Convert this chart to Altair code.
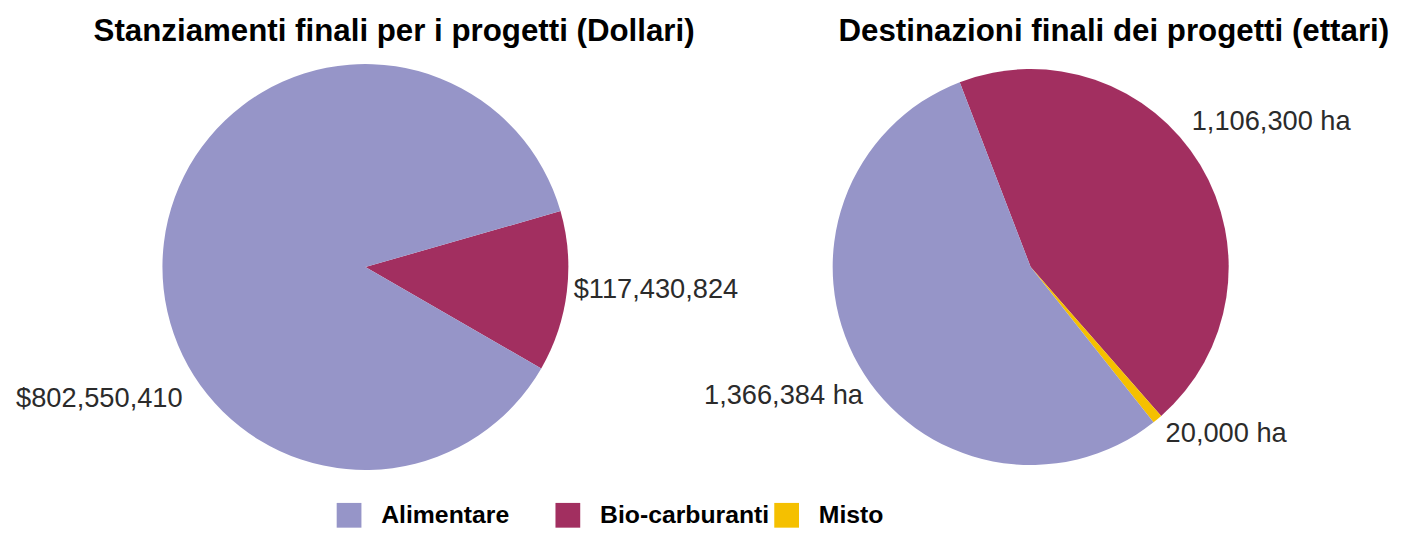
import math
import altair as alt
import pandas as pd

# ---- data -------------------------------------------------------------
categories = ["Alimentare", "Bio-carburanti", "Misto"]
colors = ["#9695C8", "#A22F60", "#F5C000"]

dollar_categories = ["Bio-carburanti", "Alimentare"]
dollar_values = [117430824, 802550410]
dollar_labels = ["$117,430,824", "$802,550,410"]

hectare_categories = ["Bio-carburanti", "Misto", "Alimentare"]
hectare_values = [1106300, 20000, 1366384]
hectare_labels = ["1,106,300 ha", "20,000 ha", "1,366,384 ha"]

title_left = "Stanziamenti finali per i progetti (Dollari)"
title_right = "Destinazioni finali dei progetti (ettari)"

df_dollars = pd.DataFrame({"cat": dollar_categories, "val": dollar_values,
                           "label": dollar_labels, "ord": list(range(len(dollar_values)))})
df_hectares = pd.DataFrame({"cat": hectare_categories, "val": hectare_values,
                            "label": hectare_labels, "ord": list(range(len(hectare_values)))})

FONT = "Liberation Sans"
W, H = 560, 420

color_scale = alt.Scale(domain=categories, range=colors)
legend = alt.Legend(
    title=None, orient="none", legendX=251, legendY=448, direction="horizontal",
    columns=3, symbolType="square", symbolSize=625, symbolStrokeWidth=0,
    symbolOpacity=1, labelFont=FONT, labelFontWeight="bold", labelFontSize=25,
    labelColor="black", labelOffset=20, columnPadding=5, gridAlign="all",
    padding=0, labelLimit=0,
)


def pie(df, start_deg, radius, label_specs, title, title_dx):
    start = math.radians(start_deg)
    theta = alt.Theta("val:Q", stack=True,
                      scale=alt.Scale(range=[start, start + 2 * math.pi]))
    arcs = alt.Chart(df).mark_arc(radius=radius).encode(
        theta=theta,
        order=alt.Order("ord:Q"),
        color=alt.Color("cat:N", scale=color_scale, legend=legend),
    )
    layers = [arcs]
    for lab, r, dx, dy, align in label_specs:
        layers.append(
            alt.Chart(df).mark_text(
                radius=r, dx=dx, dy=dy, align=align, baseline="middle",
                font=FONT, fontSize=27.5, color="#2b2b2b",
            ).encode(
                theta=theta,
                order=alt.Order("ord:Q"),
                detail="cat:N",
                text=alt.condition(alt.datum.label == lab, alt.Text("label:N"), alt.value("")),
            )
        )
    return alt.layer(*layers).properties(
        width=W, height=H,
        title=alt.TitleParams(title, font=FONT, fontSize=31.6, fontWeight="bold",
                              color="black", anchor="middle", frame="group",
                              dx=title_dx, offset=12),
    )


left = pie(df_dollars, 74, 205,
           [("$117,430,824", 212, 0, -2, "left"),
            ("$802,550,410", 186, 0, 156, "right")],
           title_left, 29)

right = pie(df_hectares, -21, 200,
            [("1,106,300 ha", 190, 0, -48, "left"),
             ("20,000 ha", 213, 0, 5, "left"),
             ("1,366,384 ha", 195, 0, 34, "right")],
            title_right, 84)

chart = alt.hconcat(left, right, spacing=112, bounds="flush").properties(
    padding={"left": 8, "top": 5, "right": 5, "bottom": 5}
).configure_view(stroke=None)

chart.save("out.html", embed_options={"renderer": "svg", "actions": False})
